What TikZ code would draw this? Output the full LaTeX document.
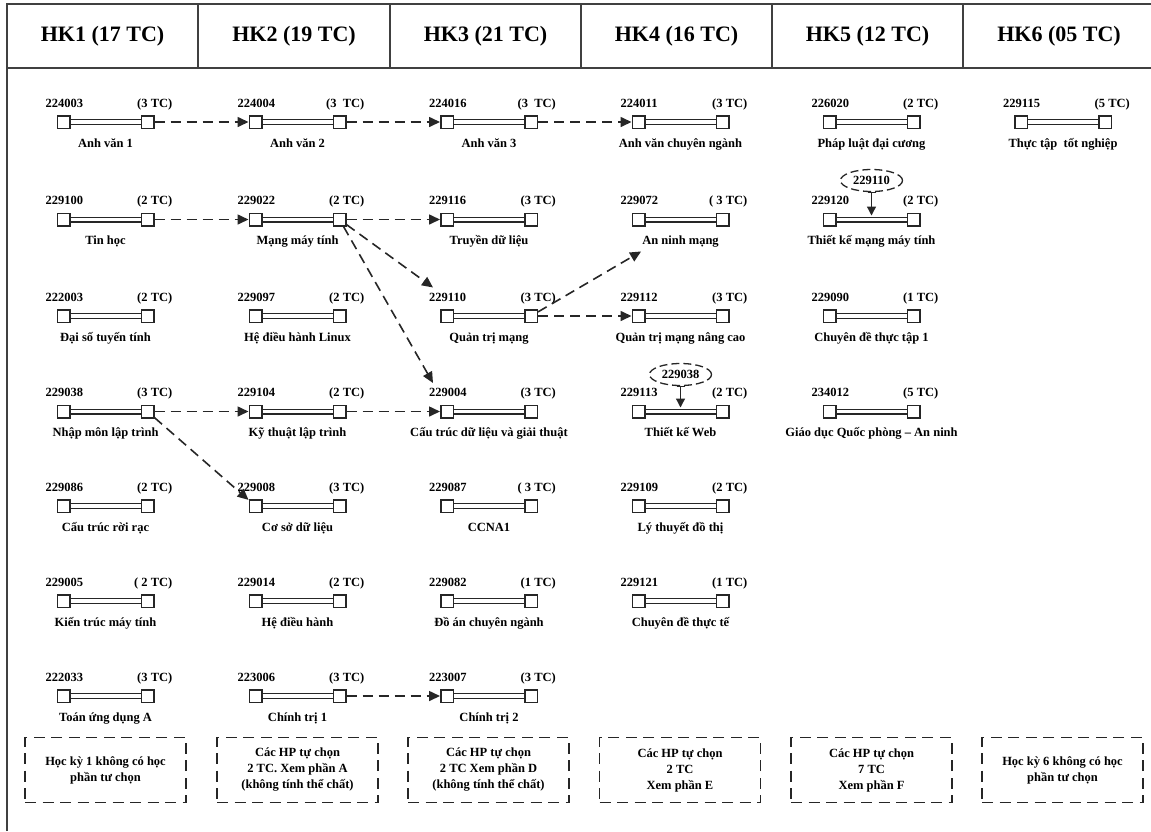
\documentclass[tikz,border=0pt]{standalone}
\usepackage{fontspec}
\setmainfont{Liberation Serif}
\usepackage{tikz}
\usetikzlibrary{shapes.geometric, arrows.meta, positioning, calc}
\newcommand{\lblfont}{\fontsize{12.5}{16}\selectfont\bfseries}
% one course: name, x, y, code, credits, title
\newcommand{\course}[6]{%
    \node[sq] (#1l) at (#2,#3) {};
    \node[sq] (#1r) at ([xshift=84pt]#1l) {};
    \draw[tube] (#1l.east) -- (#1r.west);
    \coordinate (#1m) at ($(#1l)!0.5!(#1r)$);
    \node[codelbl] (#1c) at ([shift={(-18,-15)}]#1l) {#4};
    \node[tclbl] (#1t) at ([shift={(25,-15)}]#1r) {#5};
    \node[namelbl] (#1n) at ([yshift=-25pt]#1m) {#6};
}

\begin{document}
\begin{tikzpicture}[
    x=1pt, y=-1pt,
    frame/.style={draw=black!75, line width=1.6pt},
    hkhead/.style={font=\fontsize{22}{26}\selectfont\bfseries},
    sq/.style={draw=black!85, line width=1.5pt, fill=white, minimum size=12.5pt, inner sep=0pt},
    tube/.style={draw=black!85, line width=1.2pt, double=white, double distance=3.6pt},
    codelbl/.style={anchor=base west, inner sep=0pt, font=\lblfont},
    tclbl/.style={anchor=base east, inner sep=0pt, font=\lblfont},
    namelbl/.style={anchor=base, inner sep=0pt, font=\lblfont},
    dep/.style={-{Triangle[length=11pt,width=10pt]}, line width=1.6pt, dash pattern=on 10pt off 6pt, black!85},
    prereq/.style={draw=black!85, ellipse, line width=1.3pt, dash pattern=on 8pt off 4pt, minimum width=62pt, minimum height=22pt, inner sep=0pt, font=\lblfont},
    preqarrow/.style={{Bar[width=8pt]}-{Triangle[length=9pt,width=9pt]}, line width=1.3pt, black!85},
    note/.style={draw=black!85, line width=1.8pt, dash pattern=on 11pt off 6.5pt, minimum width=161pt, minimum height=65pt, align=center, font=\lblfont}
]
    \useasboundingbox (0,0) rectangle (1151,831);

    % Frame and header
    \draw[frame] (7,831) -- (7,4) -- (1151,4);
    \draw[frame] (7,68) -- (1151,68);
    \foreach \xd in {198,390,581,772,963}
        \draw[frame] (\xd,4) -- (\xd,68);
    \node[hkhead] (hk1) at (102.5,36) {HK1 (17 TC)};
    \node[hkhead] (hk2) at (294,36) {HK2 (19 TC)};
    \node[hkhead] (hk3) at (485.5,36) {HK3 (21 TC)};
    \node[hkhead] (hk4) at (676.5,36) {HK4 (16 TC)};
    \node[hkhead] (hk5) at (867.5,36) {HK5 (12 TC)};
    \node[hkhead] (hk6) at (1059,36) {HK6 (05 TC)};

    % HK1
    \course{a1}{63.5}{122}{224003}{(3 TC)}{Anh văn 1}
    \course{th}{63.5}{219.5}{229100}{(2 TC)}{Tin học}
    \course{ds}{63.5}{316}{222003}{(2 TC)}{Đại số tuyến tính}
    \course{nmlt}{63.5}{411.5}{229038}{(3 TC)}{Nhập môn lập trình}
    \course{ctrr}{63.5}{506}{229086}{(2 TC)}{Cấu trúc rời rạc}
    \course{ktmt}{63.5}{601}{229005}{( 2 TC)}{Kiến trúc máy tính}
    \course{tuda}{63.5}{696}{222033}{(3 TC)}{Toán ứng dụng A}

    % HK2
    \course{a2}{255.5}{122}{224004}{(3~~TC)}{Anh văn 2}
    \course{mmt}{255.5}{219.5}{229022}{(2 TC)}{Mạng máy tính}
    \course{hdhl}{255.5}{316}{229097}{(2 TC)}{Hệ điều hành Linux}
    \course{ktlt}{255.5}{411.5}{229104}{(2 TC)}{Kỹ thuật lập trình}
    \course{csdl}{255.5}{506}{229008}{(3 TC)}{Cơ sở dữ liệu}
    \course{hdh}{255.5}{601}{229014}{(2 TC)}{Hệ điều hành}
    \course{ct1}{255.5}{696}{223006}{(3 TC)}{Chính trị 1}

    % HK3
    \course{a3}{447}{122}{224016}{(3~~TC)}{Anh văn 3}
    \course{tdl}{447}{219.5}{229116}{(3 TC)}{Truyền dữ liệu}
    \course{qtm}{447}{316}{229110}{(3 TC)}{Quản trị mạng}
    \course{ctdl}{447}{411.5}{229004}{(3 TC)}{Cấu trúc dữ liệu và giải thuật}
    \course{ccna}{447}{506}{229087}{( 3 TC)}{CCNA1}
    \course{da}{447}{601}{229082}{(1 TC)}{Đồ án chuyên ngành}
    \course{ct2}{447}{696}{223007}{(3 TC)}{Chính trị 2}

    % HK4
    \course{avcn}{638.5}{122}{224011}{(3 TC)}{Anh văn chuyên ngành}
    \course{anm}{638.5}{219.5}{229072}{( 3 TC)}{An ninh mạng}
    \course{qtmnc}{638.5}{316}{229112}{(3 TC)}{Quản trị mạng nâng cao}
    \course{tw}{638.5}{411.5}{229113}{(2 TC)}{Thiết kế Web}
    \course{ltdt}{638.5}{506}{229109}{(2 TC)}{Lý thuyết đồ thị}
    \course{cdtt}{638.5}{601}{229121}{(1 TC)}{Chuyên đề thực tế}

    % HK5
    \course{pldc}{829.5}{122}{226020}{(2 TC)}{Pháp luật đại cương}
    \course{tkmmt}{829.5}{219.5}{229120}{(2 TC)}{Thiết kế mạng máy tính}
    \course{cdtto}{829.5}{316}{229090}{(1 TC)}{Chuyên đề thực tập 1}
    \course{gdqp}{829.5}{411.5}{234012}{(5 TC)}{Giáo dục Quốc phòng – An ninh}

    % HK6
    \course{tttn}{1021}{122}{229115}{(5 TC)}{Thực tập~~tốt nghiệp}

    % Prerequisites in ellipses
    \node[prereq] (twpre) at ([yshift=37pt]twm) {229038};
    \draw[preqarrow] (twpre.south) -- ([yshift=4pt]twm);
    \node[prereq] (tkpre) at ([yshift=39pt]tkmmtm) {229110};
    \draw[preqarrow] (tkpre.south) -- ([yshift=4pt]tkmmtm);

    % Dependencies
    \draw[dep] (a1r) -- (a2l);
    \draw[dep] (a2r) -- (a3l);
    \draw[dep] (a3r) -- (avcnl);
    \draw[dep] (thr) -- (mmtl);
    \draw[dep] (mmtr) -- (tdll);
    \draw[dep] (mmtr) -- ([shift={(4pt,5pt)}]qtmc.north west);
    \draw[dep] (mmtr) -- ([shift={(4pt,5pt)}]ctdlc.north west);
    \draw[dep] (qtmr) -- (qtmncl);
    \draw[dep] (qtmr) -- ([shift={(-1pt,-4pt)}]anmn.south west);
    \draw[dep] (nmltr) -- (ktltl);
    \draw[dep] (ktltr) -- (ctdll);
    \draw[dep] (nmltr) -- (csdll);
    \draw[dep] (ct1r) -- (ct2l);

    % Elective notes
    \node[note] (n1) at (105.5,770) {Học kỳ 1 không có học\\phần tư chọn};
    \node[note] (n2) at (297.5,770) {Các HP tự chọn\\2 TC. Xem phần A\\(không tính thể chất)};
    \node[note] (n3) at (488.5,770) {Các HP tự chọn\\2 TC Xem phần D\\(không tính thể chất)};
    \node[note] (n4) at (680,770) {Các HP tự chọn\\2 TC\\Xem phần E};
    \node[note] (n5) at (871.5,770) {Các HP tự chọn\\7 TC\\Xem phần F};
    \node[note] (n6) at (1062.5,770) {Học kỳ 6 không có học\\phần tư chọn};
\end{tikzpicture}
\end{document}
